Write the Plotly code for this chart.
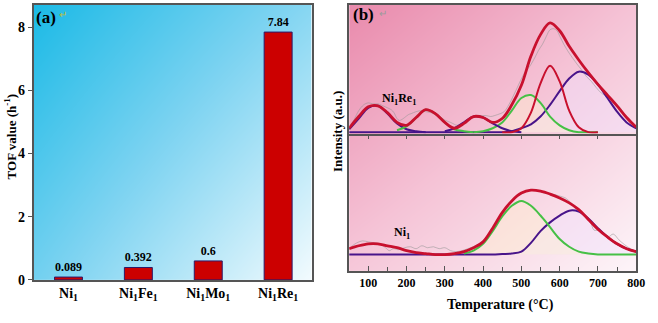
import plotly.graph_objects as go

SERIF = "Liberation Serif"

# ---- panel (a): TOF values
catalysts = ["Ni<sub>1</sub>", "Ni<sub>1</sub>Fe<sub>1</sub>", "Ni<sub>1</sub>Mo<sub>1</sub>", "Ni<sub>1</sub>Re<sub>1</sub>"]
tof = [0.089, 0.392, 0.6, 7.84]
tof_labels = ["0.089", "0.392", "0.6", "7.84"]
tof_ticks = [0, 2, 4, 6, 8]

# ---- panel (b): H2-TPR, heights in a.u.
temp = [50, 75, 100, 125, 150, 175, 200, 225, 250, 275, 300, 325, 350, 375, 400, 425,
        450, 475, 500, 525, 550, 575, 600, 625, 650, 675, 700, 725, 750, 775, 800]
temp_ticks = [100, 200, 300, 400, 500, 600, 700, 800]

# Ni1Re1 (upper)
re_fit = [4, 16, 26, 27, 20, 10, 7, 15, 23, 19, 10, 4, 9, 16, 15, 10,
          14, 28, 48, 78, 100, 112, 104, 88, 74, 61, 49, 38, 27, 15, 5]
re_purple = [0, 0, 0, 0, 0, 0, 0, 0, 0, 0, 0, 0, 0, 0, 0, 0,
             0, 1, 4, 8, 16, 28, 42, 55, 62, 59, 49, 35, 21, 10, 4]
re_red = [None] * 16 + [0, 0, 4, 20, 50, 68, 52, 22, 5, 0, 0, None, None, None, None]
re_green = [None] * 13 + [0, 1, 4, 10, 22, 35, 38, 30, 16, 7, 2, 0, 0, 0, None, None, None, None]
re_low1 = [3, 14, 25, 27, 19, 9, 3, 1, 0] + [None] * 22
re_low2 = [None] * 5 + [2, 6, 15, 23, 19, 10, 3, 1, 0] + [None] * 17
re_low3 = [None] * 10 + [1, 4, 10, 16, 15, 9, 4, 1, 0] + [None] * 12

re_raw_t = [50, 62, 75, 88, 100, 112, 126, 138, 150, 160, 167, 175, 181, 188, 195, 205, 212, 225,
            238, 250, 263, 276, 289, 302, 315, 325, 332, 345, 357, 370, 383, 395, 408, 420, 430,
            445, 455, 470, 480, 492, 503, 512, 521, 536, 545, 555, 565, 575, 585, 593, 602, 611,
            620, 632, 645, 657, 670, 683, 695, 709, 722, 735, 748, 760, 772, 786, 800]
re_raw = [3, 12, 22, 28, 30, 29, 29, 27, 25, 23, 20, 14, 12, 13, 15, 18, 19, 21,
          22, 21, 20, 18, 15, 12, 10, 8, 7, 9, 12, 15, 17, 17, 17, 16, 17,
          19, 21, 30, 38, 48, 57, 63, 67, 77, 84, 90, 98, 105, 106, 104, 97, 90,
          84, 77, 70, 64, 57, 52, 46, 40, 37, 34, 29, 24, 17, 10, 4]

# Ni1 (lower)
ni_fit = [6, 9, 11, 11, 9, 7, 4, 2, 1, 0, 0, 1, 3, 7, 13, 27,
          43, 55, 63, 66, 65, 62, 58, 53, 46, 36, 26, 18, 11, 6, 3]
ni_purple = [0, 0, 0, 0, 0, 0, 0, 0, 0, 0, 0, 0, 0, 0, 0, 0,
             0.5, 1, 3, 12, 24, 33, 40, 45, 44, 37, 27, 18, 11, 6, 3]
ni_green = [None] * 12 + [1, 4, 11, 24, 39, 50, 55, 50, 40, 28, 16, 8, 3, 1, 0, 0, 0, 0, 0]

ni_raw_t = [55, 70, 85, 100, 115, 130, 145, 155, 165, 180, 195, 210, 225, 240, 255, 270, 285,
            300, 315, 330, 345, 360, 380, 400, 420, 440, 460, 480, 500, 520, 540, 560, 580,
            600, 615, 630, 650, 665, 680, 690, 705, 715, 727, 740, 755, 770, 785, 800]
ni_raw = [8, 12, 14, 13, 12, 11, 7, 4, 6, 5, 7, 8, 6, 9, 7, 8, 6,
          7, 4, 3, 4, 6, 9, 14, 24, 36, 48, 57, 62, 66, 66, 63, 62,
          60, 58, 53, 46, 40, 34, 25, 25, 20, 18, 21, 15, 10, 6, 3]

RED = "#c8102e"
GREEN = "#46c046"
PURPLE = "#48148a"
GREY = "rgba(150,150,150,0.55)"
AXIS = "#555555"
LAVENDER = "rgba(240,225,255,0.4)"
CREAM = "rgba(255,242,205,0.4)"

fig = go.Figure()

# gradient backgrounds (heatmaps on hidden axes)
fig.add_trace(go.Heatmap(
    x=[0, 1], y=[0, 1], z=[[0.4, 1.0], [0.0, 0.5]], zsmooth="best", showscale=False,
    colorscale=[[0, "#1cbae6"], [0.45, "#7dd3f1"], [1, "#f3fbfe"]], hoverinfo="skip",
    xaxis="x", yaxis="y",
))
fig.add_trace(go.Heatmap(
    x=[0, 1], y=[0, 1], z=[[0.55, 1.0], [0.0, 0.5]], zsmooth="best", showscale=False,
    colorscale=[[0, "#e98aac"], [0.5, "#f5c3d6"], [1, "#fdf5f9"]], hoverinfo="skip",
    xaxis="x2", yaxis="y2",
))

# bars
fig.add_trace(go.Bar(
    x=catalysts, y=tof, width=0.4, text=tof_labels, textposition="outside",
    textfont=dict(family=SERIF, size=12, color="black", weight="bold"),
    marker=dict(color="#cc0000", line=dict(color="#2a1a6a", width=1)),
    cliponaxis=False, xaxis="x3", yaxis="y3", hoverinfo="skip",
))


def curve(x, y, color, width, ax):
    fig.add_trace(go.Scatter(
        x=x, y=y, mode="lines", line=dict(color=color, width=width, shape="spline", smoothing=1.0),
        connectgaps=False, xaxis="x" + ax, yaxis="y" + ax, hoverinfo="skip",
    ))


def shade(x, y, fillcolor, ax):
    fig.add_trace(go.Scatter(
        x=x, y=y, mode="lines", line=dict(width=0, shape="spline", smoothing=1.0),
        fill="tozeroy", fillcolor=fillcolor, connectgaps=False,
        xaxis="x" + ax, yaxis="y" + ax, hoverinfo="skip",
    ))


# soft fills under the fitted components
shade(temp, re_purple, LAVENDER, "4")
shade(temp, re_green, CREAM, "4")
shade(temp, ni_purple, LAVENDER, "5")
shade(temp, ni_green, CREAM, "5")

# upper: Ni1Re1
curve(re_raw_t, re_raw, GREY, 1, "4")
curve(temp, re_purple, PURPLE, 2, "4")
curve(temp, re_green, GREEN, 2, "4")
curve(temp, re_low1, PURPLE, 2, "4")
curve(temp, re_low2, GREEN, 2, "4")
curve(temp, re_low3, PURPLE, 2, "4")
curve(temp, re_red, RED, 2, "4")
curve(temp, re_fit, RED, 2.8, "4")

# lower: Ni1
curve(ni_raw_t, ni_raw, GREY, 1, "5")
curve(temp, ni_purple, PURPLE, 2, "5")
curve(temp, ni_green, GREEN, 2, "5")
curve(temp, ni_fit, RED, 2.8, "5")

L_X = [34 / 658, 316 / 658]
L_Y = [1 - 287 / 323, 1 - 5 / 323]
R_X = [354 / 658, 645 / 658]
R_TOP = [1 - 137 / 323, 1 - 5 / 323]
R_BOT = [1 - 278 / 323, 1 - 137 / 323]

hidden = dict(visible=False, range=[0, 1], fixedrange=True)
tickfont = dict(family=SERIF, size=14, color="black", weight="bold")

fig.update_layout(
    width=658, height=323,
    margin=dict(l=0, r=0, t=0, b=0),
    paper_bgcolor="white", plot_bgcolor="rgba(0,0,0,0)",
    showlegend=False,
    xaxis=dict(domain=L_X, anchor="y", **hidden),
    yaxis=dict(domain=L_Y, anchor="x", **hidden),
    xaxis2=dict(domain=R_X, anchor="y2", **hidden),
    yaxis2=dict(domain=[R_BOT[0], R_TOP[1]], anchor="x2", **hidden),
    xaxis3=dict(
        domain=L_X, anchor="y3", range=[-0.5, 3.48], showline=True, mirror=True,
        linecolor=AXIS, linewidth=1.5, ticks="", showgrid=False, tickfont=tickfont,
    ),
    yaxis3=dict(
        domain=L_Y, anchor="x3", range=[0, 8.7], tickvals=tof_ticks, ticks="outside",
        ticklen=4, tickcolor=AXIS, showline=True, mirror=True, linecolor=AXIS, linewidth=1.5,
        showgrid=False, zeroline=False, tickfont=tickfont,
    ),
    xaxis4=dict(
        domain=R_X, anchor="y4", range=[50, 800], tickvals=temp_ticks[:-1], ticks="outside",
        ticklen=4, tickcolor=AXIS, showticklabels=False, showline=True, mirror=True,
        linecolor=AXIS, linewidth=1.5, showgrid=False,
    ),
    yaxis4=dict(
        domain=R_TOP, anchor="x4", range=[-1.5, 130.5], showticklabels=False, ticks="",
        showline=True, mirror=True, linecolor=AXIS, linewidth=1.5, showgrid=False, zeroline=False,
    ),
    xaxis5=dict(
        domain=R_X, anchor="y5", range=[50, 800], tickvals=temp_ticks, ticks="inside",
        ticklen=5, tickcolor=AXIS, minor=dict(dtick=50, tick0=50, ticks="inside", ticklen=4, tickcolor=AXIS),
        showline=True, linecolor=AXIS, linewidth=1.5, showgrid=False,
        tickfont=dict(family=SERIF, size=12, color="black", weight="bold"),
    ),
    yaxis5=dict(
        domain=R_BOT, anchor="x5", range=[-17, 124], showticklabels=False, ticks="",
        showline=True, mirror=True, linecolor=AXIS, linewidth=1.5, showgrid=False, zeroline=False,
    ),
)


def note(text, x, y, size, color="black", angle=0):
    fig.add_annotation(
        text=text, x=x, y=y, xref="paper", yref="paper", showarrow=False, textangle=angle,
        font=dict(family=SERIF, size=size, color=color), xanchor="center", yanchor="middle",
    )


note("<b>(a)</b>", 47 / 658, 1 - 18 / 323, 17)
note("↵", 64 / 658, 1 - 15 / 323, 10, "#b8bf3a")
note("<b>TOF value (h<sup>-1</sup>)</b>", 10 / 658, 1 - 140 / 323, 13, angle=-90)
note("<b>(b)</b>", 369 / 658, 1 - 15 / 323, 17)
note("↵", 388 / 658, 1 - 14 / 323, 10, "#9a9a9a")
note("<b>Ni<sub>1</sub>Re<sub>1</sub></b>", 405 / 658, 1 - 102 / 323, 12)
note("<b>Ni<sub>1</sub></b>", 408 / 658, 1 - 239 / 323, 12)
note("<b>Temperature (°C)</b>", 507 / 658, 1 - 313 / 323, 14)
note("<b>Intensity (a.u.)</b>", 342 / 658, 1 - 135 / 323, 13, angle=-90)

# the page body keeps its default 8px margin otherwise
fig.write_html(
    "out.html",
    config={"displayModeBar": False},
    post_script="document.body.style.margin = '0';",
)
